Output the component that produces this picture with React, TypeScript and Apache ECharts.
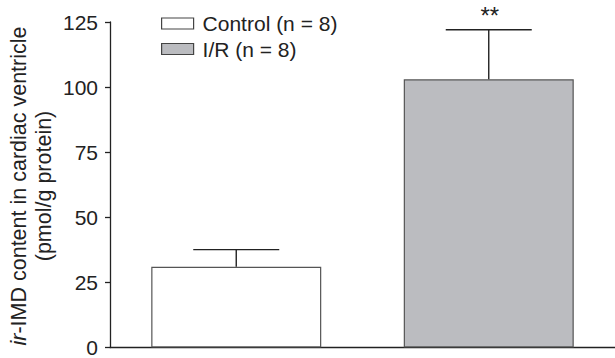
import React, { useEffect, useRef } from "react";
import * as echarts from "echarts";

const categories = ["Control", "I/R"];
const seriesNames = ["Control (n = 8)", "I/R (n = 8)"];
const means = [31, 103];
const upperErrors = [37.6, 122];
const significance = ["", "**"];
const yTicks = { min: 0, max: 125, interval: 25 };

const FONT = "'Liberation Sans', Arial, Helvetica, sans-serif";

export default function App() {
  const ref = useRef<HTMLDivElement>(null);
  useEffect(() => {
    if (!ref.current) return;
    const chart = echarts.init(ref.current, undefined, { renderer: "svg" });
    const fills = ["#ffffff", "#bbbcc0"];
    const borders = ["#555555", "#555555"];
    const barSeries = seriesNames.map((name, i) => ({
      name,
      type: "bar",
      barWidth: 170,
      barGap: "-100%",
      data: categories.map((_, j) => (j === i ? means[j] : null)),
      itemStyle: { color: fills[i], borderColor: borders[i], borderWidth: 1.2 },
      z: 2,
    }));
    const errData = categories.map((_, j) => [j, means[j], upperErrors[j]]);
    chart.setOption({
      animation: false,
      textStyle: { fontFamily: FONT },
      grid: { left: 110, right: -5, top: 22, bottom: 6, containLabel: false },
      legend: {
        orient: "vertical",
        left: 161,
        top: 13,
        padding: 0,
        itemWidth: 32,
        itemHeight: 11,
        itemGap: 4.5,
        textStyle: { fontSize: 21, color: "#222", fontFamily: FONT, padding: [0, 0, 0, 4] },
        data: seriesNames.map((n, i) => ({
          name: n,
          icon: "rect",
          itemStyle: { color: fills[i], borderColor: "#444", borderWidth: 1.2 },
        })),
      },
      xAxis: {
        type: "category",
        data: categories,
        axisLine: { show: true, lineStyle: { color: "#222", width: 1.3 } },
        axisTick: { show: false },
        axisLabel: { show: false },
      },
      yAxis: {
        type: "value",
        min: yTicks.min,
        max: yTicks.max,
        interval: yTicks.interval,
        axisLine: { show: true, lineStyle: { color: "#222", width: 1.3 } },
        axisTick: { show: true, inside: false, length: 5, lineStyle: { color: "#222", width: 1.3 } },
        axisLabel: { fontSize: 21, color: "#222", margin: 12, fontFamily: FONT },
        splitLine: { show: false },
      },
      graphic: [
        {
          type: "text",
          x: 31,
          y: 186,
          rotation: Math.PI / 2,
          style: {
            text: "{i|ir}{n|-IMD content in cardiac ventricle}\n{n|(pmol/g protein)}",
            align: "center",
            verticalAlign: "middle",
            fill: "#222",
            font: `21.5px ${FONT}`,
            lineHeight: 25,
            rich: {
              i: { fontSize: 21.5, fontStyle: "italic", fontFamily: FONT, fill: "#222", lineHeight: 25 },
              n: { fontSize: 21.5, fontFamily: FONT, fill: "#222", lineHeight: 25 },
            },
          },
        },
      ],
      series: [
        ...barSeries,
        {
          type: "custom",
          name: "err",
          data: errData,
          z: 3,
          renderItem: (params: any, api: any) => {
            const x = api.value(0);
            const lo = api.coord([x, api.value(1)]);
            const hi = api.coord([x, api.value(2)]);
            const half = 43;
            const st = { stroke: "#222", lineWidth: 1.4 };
            return {
              type: "group",
              children: [
                { type: "line", shape: { x1: lo[0], y1: lo[1], x2: hi[0], y2: hi[1] }, style: st },
                { type: "line", shape: { x1: hi[0] - half, y1: hi[1], x2: hi[0] + half, y2: hi[1] }, style: st },
                {
                  type: "text",
                  x: hi[0] + 1,
                  y: hi[1] - 2,
                  style: {
                    text: significance[params.dataIndex],
                    align: "center",
                    verticalAlign: "bottom",
                    fill: "#222",
                    font: `24px ${FONT}`,
                  },
                },
              ],
            };
          },
        },
      ],
    });
    return () => chart.dispose();
  }, []);
  return <div ref={ref} style={{ width: 615, height: 358, position: "absolute", left: 0, top: 0 }} />;
}
